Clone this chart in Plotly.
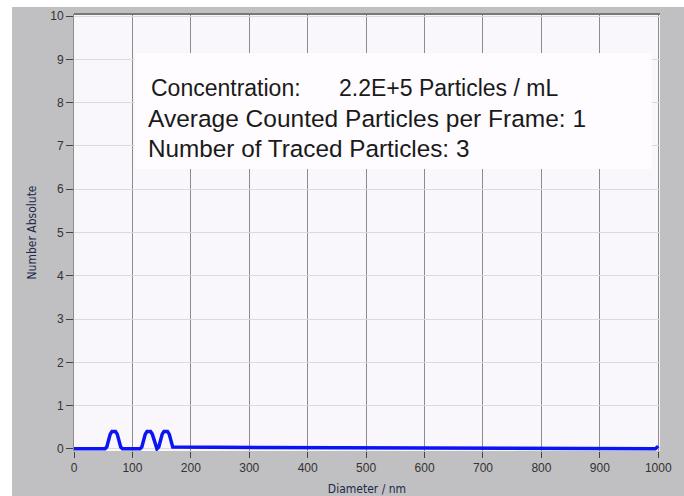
import plotly.graph_objects as go

# ---- data ----
diameter_nm = [0, 53, 56, 59, 62, 65, 68, 71, 74, 77, 80, 83,
               113, 116, 119, 122, 125, 128, 131, 134, 137, 140, 142,
               145, 148, 151, 154, 157, 160, 163, 166, 169, 995, 1000]
number_absolute = [0, 0, 0.04, 0.2, 0.34, 0.4, 0.41, 0.4, 0.34, 0.2, 0.04, 0,
                   0, 0.04, 0.2, 0.34, 0.4, 0.41, 0.4, 0.34, 0.2, 0.04, 0,
                   0.04, 0.2, 0.34, 0.4, 0.41, 0.4, 0.34, 0.2, 0.04, 0, 0.06]
x_ticks = [0, 100, 200, 300, 400, 500, 600, 700, 800, 900, 1000]
y_ticks = [0, 1, 2, 3, 4, 5, 6, 7, 8, 9, 10]
info_texts = ["Concentration:", "2.2E+5 Particles / mL",
              "Average Counted Particles per Frame: 1",
              "Number of Traced Particles: 3"]

# figure occupies the window minus a white strip (12 px left, 7 px top)
W, H = 672, 489
L, R, T, B = 62, 24, 7, 45

fig = go.Figure()
fig.add_trace(go.Scatter(x=diameter_nm, y=number_absolute, mode="lines",
                         line=dict(color="#0a14f5", width=3.5),
                         hoverinfo="skip", showlegend=False))

tickfont = dict(family="Liberation Sans, Arial, sans-serif", size=12, color="#333333")
titlefont = dict(family="Liberation Sans Narrow, Arial Narrow, DejaVu Sans Condensed, sans-serif",
                 size=12, color="#1c2a4a")

fig.update_layout(
    width=W, height=H,
    margin=dict(l=L, r=R, t=T, b=B, pad=0, autoexpand=False),
    paper_bgcolor="#c0bfc1",
    plot_bgcolor="#f9f7fb",
    xaxis=dict(range=[0, 1003], tickvals=x_ticks, ticks="outside", ticklen=6,
               tickcolor="#444444", tickwidth=1, showgrid=True, gridcolor="#8c8c8c",
               gridwidth=1, zeroline=False, showline=False, tickfont=tickfont,
               title=dict(text="Diameter / nm", font=titlefont, standoff=12)),
    yaxis=dict(range=[-0.05, 10.05], tickvals=y_ticks, ticks="outside", ticklen=7,
               tickcolor="#444444", tickwidth=1, showgrid=True, gridcolor="#dcdadd",
               gridwidth=1, zeroline=False, showline=True, linecolor="#8c8c8c",
               linewidth=1, tickfont=tickfont,
               title=dict(text="Number Absolute", font=titlefont, standoff=11)),
)

# top border of plot
fig.add_shape(type="line", xref="x domain", yref="y domain", x0=0, x1=1, y0=1, y1=1,
              line=dict(color="#777777", width=2), layer="above")

# info box
fig.add_shape(type="rect", xref="x", yref="y", x0=104.5, x1=989, y0=6.47, y1=9.15,
              fillcolor="#fefcff", line_width=0, layer="above")
ann_x = [128.5, 450, 123.5, 123.5]
ann_y = [8.34, 8.34, 7.64, 6.93]
ann_size = [23, 23, 24.5, 24.3]
for txt, ax, ay, sz in zip(info_texts, ann_x, ann_y, ann_size):
    fig.add_annotation(x=ax, y=ay, xref="x", yref="y", text=txt, showarrow=False,
                       xanchor="left", yanchor="middle",
                       font=dict(family="Liberation Sans, Arial, sans-serif", size=sz,
                                 color="#1a1a1a"))

fig.write_html("out.html", config={"displayModeBar": False},
               post_script="document.body.style.margin='7px 0 0 12px';"
                           "document.body.style.overflow='hidden';"
                           "document.body.style.background='#ffffff';")
